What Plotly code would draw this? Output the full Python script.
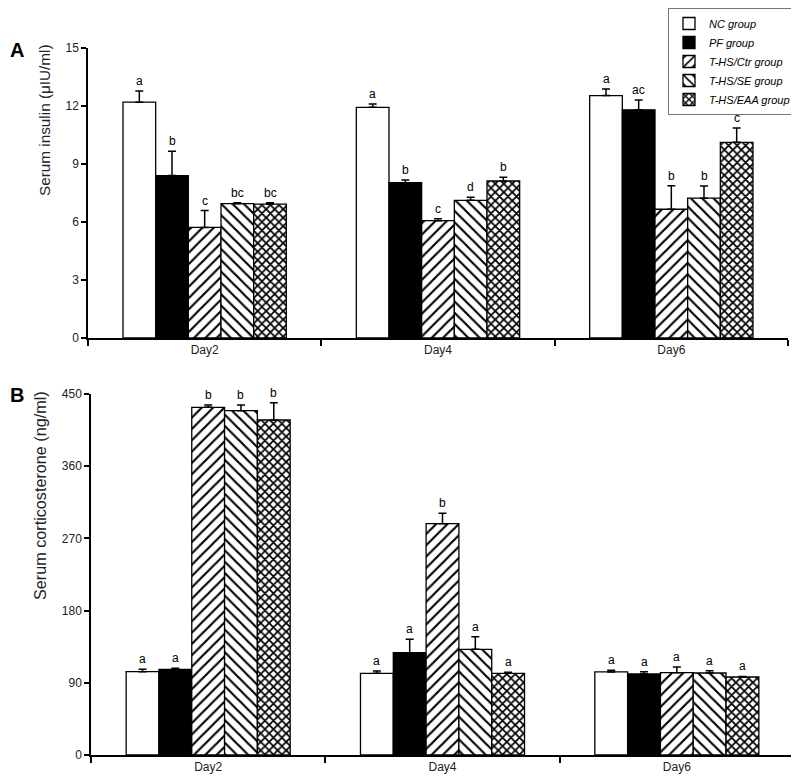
import plotly.graph_objects as go

days = ["Day2", "Day4", "Day6"]
groups = ["NC group", "PF group", "T-HS/Ctr group", "T-HS/SE group", "T-HS/EAA group"]

# Panel A: serum insulin (μIU/ml)
ins_mean = {
    "NC group": [12.2, 11.93, 12.54],
    "PF group": [8.4, 8.03, 11.8],
    "T-HS/Ctr group": [5.72, 6.07, 6.66],
    "T-HS/SE group": [6.95, 7.12, 7.23],
    "T-HS/EAA group": [6.92, 8.12, 10.12],
}
ins_err = {
    "NC group": [0.58, 0.17, 0.34],
    "PF group": [1.26, 0.14, 0.51],
    "T-HS/Ctr group": [0.87, 0.10, 1.22],
    "T-HS/SE group": [0.05, 0.16, 0.63],
    "T-HS/EAA group": [0.07, 0.19, 0.74],
}
ins_sig = {
    "NC group": ["a", "a", "a"],
    "PF group": ["b", "b", "ac"],
    "T-HS/Ctr group": ["c", "c", "b"],
    "T-HS/SE group": ["bc", "d", "b"],
    "T-HS/EAA group": ["bc", "b", "c"],
}

# Panel B: serum corticosterone (ng/ml)
cort_mean = {
    "NC group": [103.9, 101.8, 103.5],
    "PF group": [106.8, 127.5, 101.0],
    "T-HS/Ctr group": [433.4, 288.4, 102.6],
    "T-HS/SE group": [429.2, 131.7, 102.2],
    "T-HS/EAA group": [417.6, 101.8, 97.2],
}
cort_err = {
    "NC group": [2.9, 2.9, 2.0],
    "PF group": [1.2, 16.7, 2.9],
    "T-HS/Ctr group": [2.9, 13.0, 7.1],
    "T-HS/SE group": [7.1, 15.8, 2.9],
    "T-HS/EAA group": [21.6, 1.2, 0.8],
}
cort_sig = {
    "NC group": ["a", "a", "a"],
    "PF group": ["a", "a", "a"],
    "T-HS/Ctr group": ["b", "b", "a"],
    "T-HS/SE group": ["b", "a", "a"],
    "T-HS/EAA group": ["b", "a", "a"],
}

styles = {
    "NC group": dict(color="white", pattern=dict(shape="")),
    "PF group": dict(color="black", pattern=dict(shape="")),
    "T-HS/Ctr group": dict(color="white", pattern=dict(shape="/", fgcolor="black", bgcolor="white", size=8, solidity=0.27, fillmode="replace")),
    "T-HS/SE group": dict(color="white", pattern=dict(shape="\\", fgcolor="black", bgcolor="white", size=8, solidity=0.27, fillmode="replace")),
    "T-HS/EAA group": dict(color="white", pattern=dict(shape="x", fgcolor="black", bgcolor="white", size=6, solidity=0.5, fillmode="replace")),
}

BARGAP = 0.30
n = len(groups)
bw = (1 - BARGAP) / n

FONT = "Liberation Sans, Arial"
W, H = 799, 782
OFF = 8  # page body margin in the browser


def fx(px):
    return (px - OFF) / W


def fy(py):
    return 1 - (py - OFF) / H


fig = go.Figure()
annotations = []


def add_panel(means, errs, sigs, xa, ya, showlegend):
    for gi, g in enumerate(groups):
        st = styles[g]
        fig.add_trace(go.Bar(
            x=days, y=means[g], name=g, xaxis=xa, yaxis=ya,
            showlegend=showlegend, legendgroup=g,
            marker=dict(color=st["color"], line=dict(color="black", width=1.3),
                        pattern=st["pattern"]),
            error_y=dict(type="data", symmetric=False, array=errs[g],
                         arrayminus=[0] * len(days), color="black",
                         thickness=1.5, width=4),
        ))
        off = -(1 - BARGAP) / 2 + bw * (gi + 0.5)
        for di in range(len(days)):
            annotations.append(dict(
                x=di + off, y=means[g][di] + errs[g][di], xref=xa, yref=ya,
                text=sigs[g][di], showarrow=False, yanchor="bottom", yshift=1,
                font=dict(family=FONT, size=12, color="black"),
            ))


add_panel(ins_mean, ins_err, ins_sig, "x", "y", True)
add_panel(cort_mean, cort_err, cort_sig, "x2", "y2", False)

axis_font = dict(family=FONT, size=12, color="#222")
common_x = dict(type="category", showline=True, linecolor="black", linewidth=1.5,
                ticks="outside", tickson="boundaries", ticklen=6, tickwidth=1.5,
                tickcolor="black", showgrid=False, zeroline=False, tickfont=axis_font,
                automargin=False, fixedrange=True)
common_y = dict(showline=True, linecolor="black", linewidth=1.5, ticks="outside",
                ticklen=5, tickwidth=1.5, tickcolor="black", showgrid=False,
                zeroline=False, tickfont=axis_font, automargin=False)

# panel letters
annotations.append(dict(x=fx(8), y=fy(49.5), xref="paper", yref="paper", text="<b>A</b>",
                        showarrow=False, xanchor="left", yanchor="middle",
                        font=dict(family=FONT, size=20, color="black")))
annotations.append(dict(x=fx(8), y=fy(394.5), xref="paper", yref="paper", text="<b>B</b>",
                        showarrow=False, xanchor="left", yanchor="middle",
                        font=dict(family=FONT, size=20, color="black")))
# y-axis titles (top aligned as in the original)
annotations.append(dict(x=fx(45), y=fy(42), xref="paper", yref="paper",
                        text="Serum insulin (μIU/ml)", textangle=-90,
                        showarrow=False, xanchor="center", yanchor="top",
                        font=dict(family=FONT, size=15.3, color="#222")))
annotations.append(dict(x=fx(39.5), y=fy(389), xref="paper", yref="paper",
                        text="Serum corticosterone (ng/ml)", textangle=-90,
                        showarrow=False, xanchor="center", yanchor="top",
                        font=dict(family=FONT, size=16.2, color="#222")))

fig.update_layout(
    width=W, height=H,
    margin=dict(l=0, r=0, t=0, b=0),
    paper_bgcolor="white", plot_bgcolor="white",
    barmode="group", bargap=BARGAP, bargroupgap=0,
    xaxis=dict(domain=[fx(88), fx(788)], anchor="y", **common_x),
    yaxis=dict(domain=[fy(338), fy(48)], anchor="x", range=[0, 15], dtick=3, **common_y),
    xaxis2=dict(domain=[fx(91), fx(794)], anchor="y2", **common_x),
    yaxis2=dict(domain=[fy(755), fy(394)], anchor="x2", range=[0, 450], dtick=90, **common_y),
    legend=dict(x=fx(796), y=fy(8), xanchor="right", yanchor="top",
                bordercolor="#777", borderwidth=1, bgcolor="white",
                font=dict(family=FONT, size=11, color="black", style="italic"),
                tracegroupgap=0, itemwidth=30),
    annotations=annotations,
    font=dict(family=FONT),
)

fig.write_html("out.html")
